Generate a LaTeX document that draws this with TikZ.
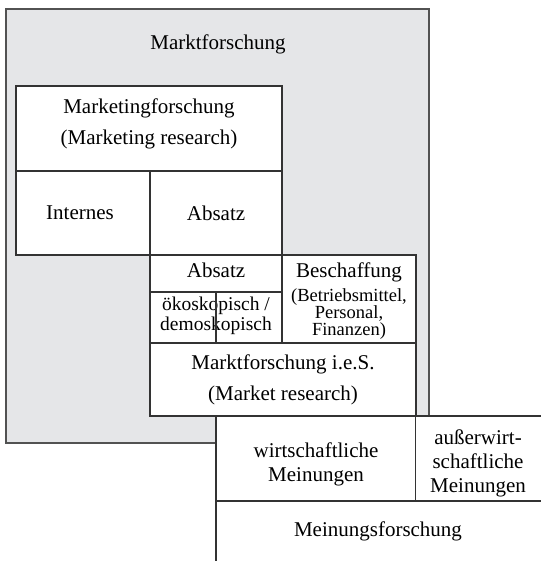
\documentclass[tikz,border=0pt]{standalone}
\usepackage{fontspec}
\setmainfont{Liberation Serif}
\definecolor{boxgray}{HTML}{E5E6E8}
\definecolor{linecol}{HTML}{333333}
\tikzset{
  frame/.style={draw=linecol, line width=1.3pt},
  grayframe/.style={draw=linecol!85!white, fill=boxgray, line width=1.4pt},
  whitebox/.style={draw=linecol, fill=white, line width=1.3pt},
  big/.style={font=\fontsize{21}{31}\selectfont, align=center, inner sep=0pt},
  mid/.style={font=\fontsize{21}{24}\selectfont, align=center, inner sep=0pt},
  small/.style={font=\fontsize{19.5}{20}\selectfont, align=center, inner sep=0pt},
  tiny/.style={font=\fontsize{18.5}{16.8}\selectfont, align=center, inner sep=0pt}
}
\begin{document}
\begin{tikzpicture}[x=1pt,y=-1pt]
\useasboundingbox (0,0) rectangle (541,561);
% grey outer box
\draw[grayframe] (6,9) rectangle (429,443);
% boxes
\draw[whitebox] (16,86) rectangle (282,171);
\draw[whitebox] (16,171) rectangle (150,255);
\draw[whitebox] (150,171) rectangle (282,255);
\draw[whitebox] (150,255) rectangle (282,292);
\draw[whitebox] (150,292) rectangle (282,343);
\draw[whitebox] (282,255) rectangle (416,343);
\draw[whitebox] (150,343) rectangle (416,416);
\draw[whitebox] (216,416) rectangle (416,501);
\fill[white] (416,416) rectangle (541,501);
\draw[frame] (416,416) -- (541,416);
\draw[frame] (416,501) -- (541,501);
\draw[frame] (216,501) -- (216,561);
% texts
\node[big] (mf) at (218,44) {Marktforschung};
\node[big] (mkf) at (149,124) {Marketingforschung\\(Marketing research)};
\node[big] (int) at (80,213) {Internes};
\node[big] (abs1) at (216,213) {Absatz};
\node[big] (abs2) at (216,270) {Absatz};
\node[small] (oeko) at (216,316) {ökoskopisch /\\demoskopisch};
\draw[frame] (216,292) -- (216,343);
\node[big] (besch) at (349,272) {Beschaffung};
\node[tiny] (betr) at (349,314) {(Betriebsmittel,\\Personal,\\Finanzen)};
\node[big] (mfies) at (283,380) {Marktforschung i.e.S.\\(Market research)};
\node[mid] (wm) at (316,464) {wirtschaftliche\\Meinungen};
\node[mid] (awm) at (478,463) {außerwirt-\\schaftliche\\Meinungen};
\node[big] (mnf) at (378,531) {Meinungsforschung};
\end{tikzpicture}
\end{document}
